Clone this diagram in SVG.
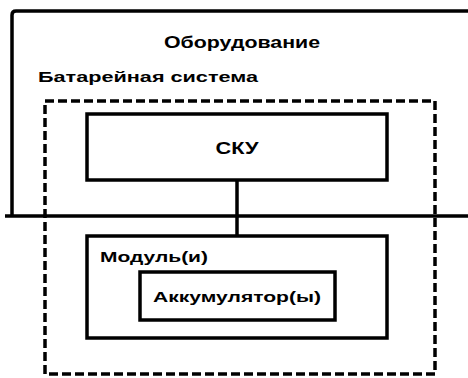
<svg xmlns="http://www.w3.org/2000/svg" width="468" height="378" viewBox="0 0 468 378">
<style>
.t{font-family:"Liberation Sans",Arial,sans-serif;font-weight:bold;fill:#000}
.box{fill:none;stroke:#000;stroke-width:3.5}
.dash{fill:none;stroke:#000;stroke-width:3.5;stroke-dasharray:9 4}
.ln{stroke:#000;stroke-width:3.5;fill:none}
</style>
<rect width="468" height="378" fill="#fff"/>
<g id="equipment">
<path class="ln" d="M5,216 H468 M12,216 V15 Q12,11 16,11 H468" stroke-width="4"/>
<text class="t" x="242" y="48" font-size="16" text-anchor="middle" textLength="156" lengthAdjust="spacingAndGlyphs">Оборудование</text>
</g>
<g id="battery-system">
<text class="t" x="38" y="82" font-size="15" textLength="220" lengthAdjust="spacingAndGlyphs">Батарейная система</text>
<rect class="dash" x="45" y="101" width="390" height="273"/>
</g>
<g id="sku">
<rect class="box" x="87" y="114" width="300" height="66"/>
<text class="t" x="237" y="154" font-size="17" text-anchor="middle" textLength="43" lengthAdjust="spacingAndGlyphs">СКУ</text>
</g>
<g id="connectors">
<line class="ln" x1="237" y1="180" x2="237" y2="236"/>
</g>
<g id="modules">
<rect class="box" x="87" y="236" width="300" height="102"/>
<text class="t" x="100" y="262" font-size="15" textLength="108" lengthAdjust="spacingAndGlyphs">Модуль(и)</text>
</g>
<g id="accumulators">
<rect class="box" x="140" y="272" width="195" height="48"/>
<text class="t" x="237" y="302" font-size="15" text-anchor="middle" textLength="168" lengthAdjust="spacingAndGlyphs">Аккумулятор(ы)</text>
</g>
</svg>
